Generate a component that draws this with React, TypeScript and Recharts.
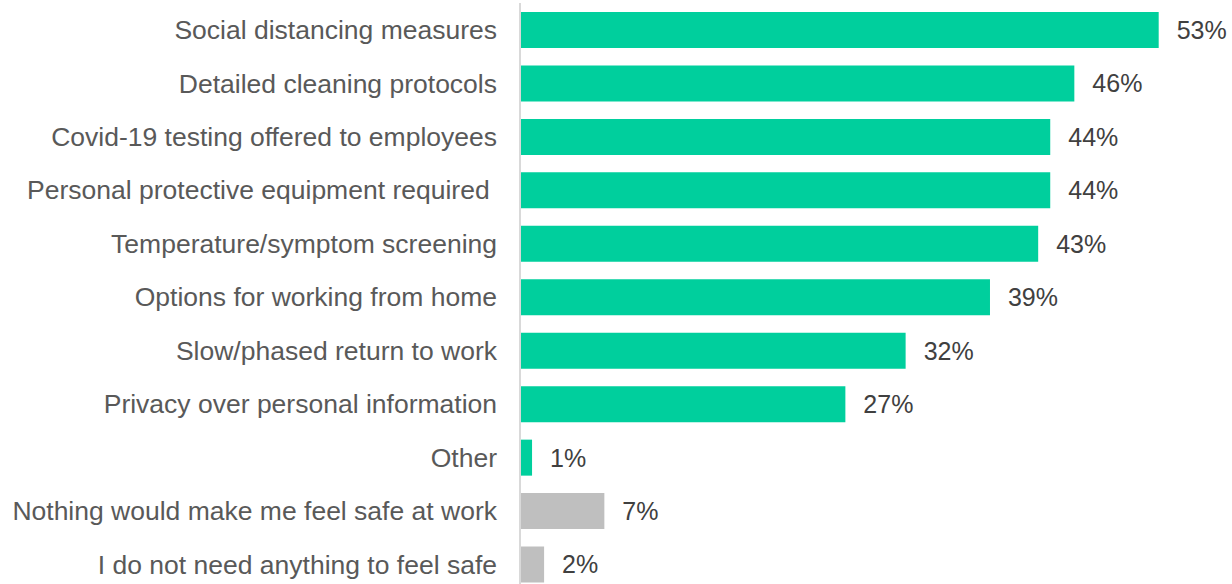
import React from 'react';
import { BarChart, Bar, XAxis, YAxis, Cell, LabelList } from 'recharts';

const categories = [
  'Social distancing measures',
  'Detailed cleaning protocols',
  'Covid-19 testing offered to employees',
  'Personal protective equipment required\u00A0',
  'Temperature/symptom screening',
  'Options for working from home',
  'Slow/phased return to work',
  'Privacy over personal information',
  'Other',
  'Nothing would make me feel safe at work',
  'I do not need anything to feel safe',
];

const values = [53, 46, 44, 44, 43, 39, 32, 27, 1, 7, 2];

// last two answers are the "nothing" answers, drawn in gray
const isNeutral = [false, false, false, false, false, false, false, false, false, true, true];

const GREEN = '#00CF9D';
const GRAY = '#BFBFBF';
const LABEL_TEXT = '#595959';
const VALUE_TEXT = '#404040';
const FONT = '"Liberation Sans", Arial, sans-serif';

const data = categories.map((name, i) => ({
  name,
  value: values[i],
  neutral: isNeutral[i],
}));

const App: React.FC = () => {
  return (
    <div style={{ position: 'absolute', left: 0, top: 0, width: 1232, height: 584, overflow: 'hidden', background: '#fff' }}>
      <BarChart
        width={1232}
        height={591}
        data={data}
        layout="vertical"
        margin={{ top: 3, right: 1, bottom: 0, left: 0 }}
      >
        <XAxis type="number" domain={[0, 59]} hide />
        <YAxis
          type="category"
          dataKey="name"
          width={520}
          axisLine={{ stroke: '#D9D9D9', strokeWidth: 2 }}
          tickLine={false}
          tickSize={0}
          tickMargin={23}
          interval={0}
          tick={{ fill: LABEL_TEXT, fontSize: 26.5, fontFamily: FONT }}
        />
        <Bar dataKey="value" barSize={36} isAnimationActive={false}>
          {data.map((d, i) => (
            <Cell key={`cell-${i}`} fill={d.neutral ? GRAY : GREEN} />
          ))}
          <LabelList
            dataKey="value"
            position="right"
            offset={18}
            formatter={(v: any) => `${v}%`}
            style={{ fill: VALUE_TEXT, fontSize: 25, fontFamily: FONT }}
          />
        </Bar>
      </BarChart>
    </div>
  );
};

export default App;
